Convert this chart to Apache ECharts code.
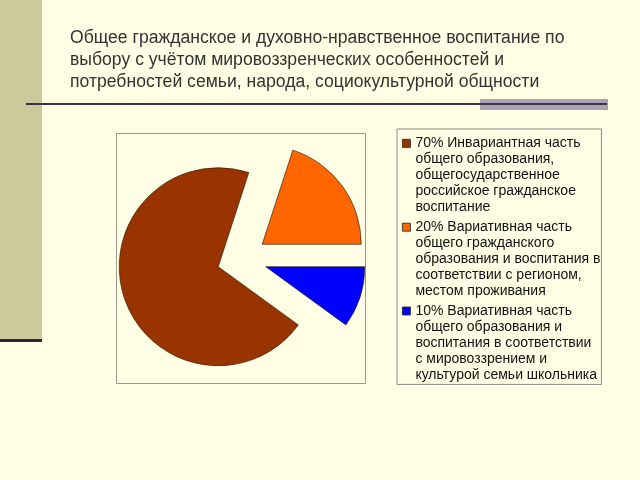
<!DOCTYPE html>
<html><head><meta charset="utf-8">
<script src="https://cdn.jsdelivr.net/npm/echarts@6/dist/echarts.min.js"></script>
<style>html,body{margin:0;padding:0;background:#FFFFE6}#c{width:640px;height:480px}</style>
</head><body><div id="c"></div>
<script>
const titleLines = [
  'Общее гражданское и духовно-нравственное воспитание по',
  'выбору с учётом мировоззренческих особенностей и',
  'потребностей семьи, народа, социокультурной общности'
];
const categories = ['Инвариантная', 'Вариативная регион', 'Вариативная семья'];
const values = [70, 20, 10];
const legendLabels = [
  ['70% Инвариантная часть', 'общего образования,', 'общегосударственное', 'российское гражданское', 'воспитание'],
  ['20% Вариативная часть', 'общего гражданского', 'образования и воспитания в', 'соответствии с регионом,', 'местом проживания'],
  ['10% Вариативная часть', 'общего образования и', 'воспитания в соответствии', 'с мировоззрением и', 'культурой семьи школьника']
];

const chart = echarts.init(document.getElementById('c'), null, {renderer: 'canvas'});
const font = '"Liberation Sans", Arial, sans-serif';
chart.setOption({
  animation: false,
  backgroundColor: '#FFFFE6',
  color: ['#993300', '#FF6600', '#0000FF'],
  title: {
    text: titleLines.join('\n'),
    left: 70, top: 27, padding: 0,
    textStyle: {fontFamily: font, fontSize: 17.6, fontWeight: 'normal', lineHeight: 22, color: '#333333'}
  },
  graphic: [
    {type: 'rect', shape: {x: 0, y: 0, width: 42, height: 339}, style: {fill: '#CACA9C'}, z: 0},
    {type: 'rect', shape: {x: 0, y: 339, width: 42, height: 3}, style: {fill: '#3A2236'}, z: 0},
    {type: 'rect', shape: {x: 480, y: 99, width: 128, height: 11}, style: {fill: '#ABA3B3'}, z: 0},
    {type: 'line', shape: {x1: 26, y1: 104, x2: 607, y2: 104}, style: {stroke: '#3A3048', lineWidth: 2}, z: 1},
    {type: 'rect', shape: {x: 116.5, y: 133.5, width: 249, height: 250}, style: {fill: 'none', stroke: '#9A9A88', lineWidth: 1}, z: 0}
  ],
  legend: {
    orient: 'vertical',
    left: 397, top: 129,
    padding: [6, 1, 1, 5],
    itemGap: 3,
    itemWidth: 8, itemHeight: 80,
    icon: 'path://M0,0h0M8,80h0M0,4h8v8h-8z',
    itemStyle: {borderColor: '#222', borderWidth: 0.8},
    borderColor: '#8A8A80', borderWidth: 1,
    backgroundColor: '#FFFFE6',
    selectedMode: false,
    data: categories,
    formatter: function (name) { return legendLabels[categories.indexOf(name)].join('\n'); },
    textStyle: {fontFamily: font, fontSize: 14, lineHeight: 16, color: '#111111'}
  },
  series: [{
    type: 'pie',
    center: [242, 259],
    radius: 99,
    startAngle: -36,
    clockwise: true,
    selectedMode: 'multiple',
    selectedOffset: 25,
    label: {show: false},
    labelLine: {show: false},
    emphasis: {disabled: true},
    itemStyle: {borderColor: 'rgba(40,20,0,0.8)', borderWidth: 0.8},
    data: categories.map((c, i) => ({name: c, value: values[i], selected: true}))
  }]
});
</script>
</body></html>
